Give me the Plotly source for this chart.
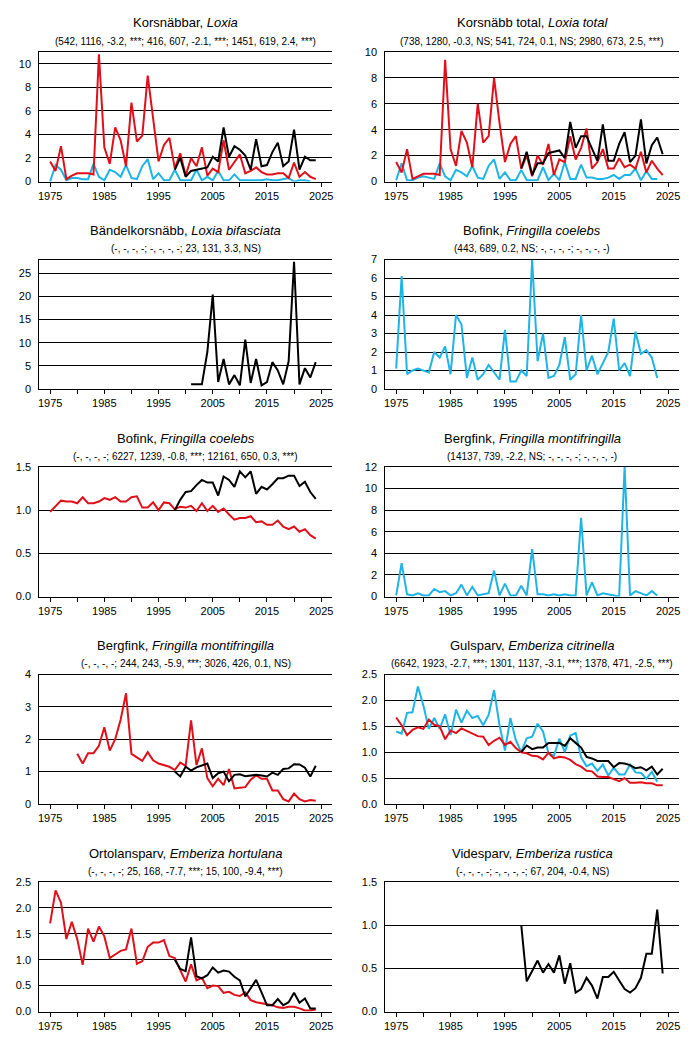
import plotly.graph_objects as go

W, H = 692, 1038
RED = "#E0101A"
CYAN = "#1EB4E6"
BLACK = "#000000"
FONT = "Arial, Liberation Sans, sans-serif"

# ---------------- data ----------------
korsnabbar_red = [1.7, 0.9, 3.0, 0.2, 0.5, 0.7, 0.7, 0.7, 0.6, 10.8, 2.9, 1.5, 4.6, 3.5, 1.3, 6.7, 3.4, 3.9, 9.0, 5.5,
                  1.7, 3.1, 3.7, 1.1, 2.4, 0.5, 2.0, 1.3, 2.9, 0.5, 1.1, 0.8, 3.5, 1.0, 1.6, 2.3, 0.7, 0.9, 1.2, 0.8,
                  0.6, 0.6, 0.7, 0.7, 0.3, 1.6, 0.4, 0.8, 0.4, 0.2]
korsnabbar_black = [1.0, 2.0, 0.4, 0.9, 1.0, 1.1, 1.2, 2.1, 1.7, 4.6, 2.1, 3.0, 2.7, 2.2, 1.0, 3.6, 1.3, 1.4, 2.5, 3.3,
                    1.3, 1.7, 4.4, 1.0, 2.1, 1.8, 1.8]
korsnabbar_cyan = [0.0, 1.4, 1.0, 0.1, 0.3, 0.3, 0.2, 0.2, 1.5, 0.4, 0.1, 1.0, 0.8, 0.4, 1.4, 0.3, 0.2, 1.3, 1.9, 0.2,
                   0.7, 0.1, 0.1, 1.0, 0.1, 0.1, 0.1, 1.0, 0.1, 0.4, 0.1, 0.9, 0.1, 0.1, 0.6, 0.1, 0.1, 0.1, 0.1, 0.1,
                   0.2, 0.1, 0.1, 0.2, 0.3, 0.0, 0.1, 0.1, 0.0]

total_red = [1.5, 0.7, 2.5, 0.2, 0.4, 0.6, 0.6, 0.6, 0.5, 9.4, 2.5, 1.2, 3.9, 3.0, 1.1, 6.0, 3.0, 3.5, 8.0, 4.5,
             1.5, 2.9, 3.5, 1.0, 2.0, 0.4, 2.0, 1.3, 2.9, 0.5, 1.7, 1.5, 3.5, 1.7, 2.6, 4.1, 1.0, 1.5, 2.5, 1.0,
             1.0, 1.8, 1.1, 1.3, 1.0, 2.3, 0.7, 1.6, 1.0, 0.5]
total_black = [1.0, 2.3, 0.5, 1.4, 1.4, 2.2, 2.3, 2.4, 1.8, 4.6, 2.6, 3.5, 3.5, 2.5, 1.6, 4.4, 1.6, 1.6, 2.9, 3.8,
               1.5, 2.0, 4.8, 1.4, 2.8, 3.4, 2.1]
total_cyan = [0.1, 1.4, 0.1, 0.1, 0.3, 0.4, 0.3, 0.2, 1.4, 0.4, 0.1, 0.9, 0.7, 0.4, 1.2, 0.3, 0.2, 1.2, 1.7, 0.2,
              0.7, 0.1, 0.1, 0.9, 0.1, 0.1, 0.1, 1.1, 0.1, 0.6, 0.1, 1.5, 0.2, 0.2, 1.3, 0.3, 0.3, 0.2, 0.2, 0.3,
              0.5, 0.2, 0.5, 0.5, 1.0, 0.1, 0.8, 0.2, 0.2]

bandel_black = [1.0, 1.0, 1.0, 8.0, 20.4, 1.5, 6.5, 1.0, 3.0, 0.8, 10.7, 1.3, 6.5, 0.8, 1.5, 5.8, 4.0, 1.0, 6.0, 27.5,
                1.0, 4.5, 2.5, 5.8]

bofink_cyan = [1.1, 6.1, 0.8, 1.0, 1.1, 1.0, 0.9, 2.0, 1.7, 2.3, 0.8, 4.0, 3.5, 0.6, 1.7, 0.5, 0.8, 1.3, 0.9, 0.5,
               3.2, 0.4, 0.4, 1.0, 0.7, 7.0, 1.5, 3.0, 0.6, 0.7, 1.3, 2.8, 0.5, 0.8, 4.0, 1.0, 1.8, 0.8, 1.4, 2.0,
               3.8, 1.0, 1.4, 0.7, 3.1, 1.9, 2.1, 1.7, 0.6]

bofink_red = [0.98, 1.05, 1.11, 1.10, 1.10, 1.08, 1.15, 1.08, 1.08, 1.10, 1.14, 1.12, 1.15, 1.10, 1.10, 1.15, 1.16,
              1.03, 1.03, 1.09, 1.00, 1.09, 1.08, 1.01, 1.04, 1.03, 1.05, 0.99, 1.08, 0.99, 1.05, 0.98, 1.02, 0.95,
              0.89, 0.91, 0.91, 0.93, 0.86, 0.87, 0.83, 0.83, 0.88, 0.81, 0.78, 0.81, 0.75, 0.78, 0.71, 0.67]
bofink_black = [1.00, 1.12, 1.21, 1.22, 1.29, 1.35, 1.32, 1.32, 1.17, 1.39, 1.35, 1.27, 1.45, 1.38, 1.45, 1.19, 1.27,
                1.24, 1.30, 1.37, 1.37, 1.40, 1.40, 1.28, 1.33, 1.21, 1.13]

bergfink_cyan = [0.1, 3.1, 0.2, 0.1, 0.3, 0.1, 0.1, 0.7, 0.4, 0.5, 0.1, 0.3, 1.1, 0.1, 0.9, 0.1, 0.2, 0.3, 2.4, 0.1,
                 1.2, 0.1, 0.1, 1.0, 0.1, 4.4, 0.2, 0.2, 0.1, 0.2, 0.1, 0.2, 0.1, 0.1, 7.3, 0.1, 1.3, 0.1, 0.3, 0.2,
                 0.1, 0.0, 12.0, 0.1, 0.5, 0.3, 0.1, 0.5, 0.1]

bergfink_red = [1.55, 1.25, 1.57, 1.57, 1.80, 2.37, 1.65, 2.00, 2.60, 3.42, 1.55, 1.43, 1.33, 1.60, 1.35, 1.25, 1.20,
                1.15, 1.05, 1.28, 1.18, 2.58, 1.20, 1.72, 0.80, 0.55, 0.78, 0.58, 1.08, 0.48, 0.50, 0.52, 0.75, 0.88,
                0.78, 0.78, 0.42, 0.42, 0.15, 0.08, 0.32, 0.15, 0.08, 0.12, 0.10]
bergfink_black = [1.00, 0.85, 1.15, 1.03, 1.13, 1.20, 1.25, 0.80, 0.95, 1.00, 0.70, 0.90, 0.92, 0.86, 0.87, 0.90, 0.88,
                  0.85, 0.97, 0.90, 1.08, 1.10, 1.23, 1.22, 1.12, 0.85, 1.18]

gulsparv_cyan = [1.40, 1.36, 1.76, 1.77, 2.27, 1.90, 1.45, 1.66, 1.45, 1.73, 1.33, 1.82, 1.57, 1.80, 1.66, 1.70, 1.52,
                 1.72, 2.20, 1.52, 1.03, 1.66, 1.23, 1.00, 1.27, 1.30, 1.55, 1.40, 0.98, 0.93, 1.26, 1.00, 1.32, 1.37,
                 0.90, 0.73, 0.78, 0.64, 0.76, 0.55, 0.70, 0.57, 0.57, 0.76, 0.61, 0.60, 0.49, 0.62, 0.43]
gulsparv_red = [1.67, 1.52, 1.33, 1.43, 1.48, 1.45, 1.63, 1.53, 1.50, 1.25, 1.42, 1.37, 1.46, 1.41, 1.37, 1.31, 1.30,
                1.14, 1.22, 1.28, 1.14, 1.20, 1.08, 1.00, 0.98, 0.93, 0.92, 0.86, 0.99, 0.88, 0.91, 0.90, 0.85, 0.77,
                0.72, 0.64, 0.63, 0.53, 0.52, 0.52, 0.48, 0.44, 0.50, 0.41, 0.41, 0.42, 0.40, 0.40, 0.36, 0.36]
gulsparv_black = [1.00, 1.13, 1.06, 1.09, 1.09, 1.18, 1.18, 1.18, 1.12, 1.27, 1.18, 1.09, 0.91, 0.88, 0.83, 0.83, 0.83,
                  0.71, 0.79, 0.78, 0.75, 0.69, 0.71, 0.65, 0.72, 0.57, 0.68]

ortolan_red = [1.70, 2.34, 2.10, 1.40, 1.73, 1.40, 0.90, 1.60, 1.35, 1.64, 1.45, 1.03, 1.10, 1.17, 1.20, 1.60, 0.92,
               0.97, 1.25, 1.33, 1.33, 1.38, 1.07, 1.03, 0.80, 0.58, 0.91, 0.60, 0.65, 0.45, 0.50, 0.49, 0.36, 0.38,
               0.32, 0.30, 0.37, 0.22, 0.18, 0.16, 0.15, 0.12, 0.08, 0.07, 0.09, 0.09, 0.06, 0.02, 0.02, 0.04]
ortolan_black = [1.00, 0.82, 0.78, 1.43, 0.68, 0.64, 0.70, 0.85, 0.75, 0.79, 0.77, 0.67, 0.60, 0.29, 0.45, 0.61, 0.37,
                 0.12, 0.12, 0.24, 0.12, 0.18, 0.36, 0.17, 0.25, 0.06, 0.06]

videsparv_black = [1.00, 0.35, 0.47, 0.59, 0.45, 0.55, 0.45, 0.65, 0.32, 0.56, 0.22, 0.26, 0.39, 0.30, 0.15, 0.40, 0.40,
                   0.46, 0.36, 0.26, 0.22, 0.27, 0.39, 0.67, 0.67, 1.18, 0.44]

titles = ["Korsnäbbar, <i>Loxia</i>", "Korsnäbb total, <i>Loxia total</i>",
          "Bändelkorsnäbb, <i>Loxia bifasciata</i>", "Bofink, <i>Fringilla coelebs</i>",
          "Bofink, <i>Fringilla coelebs</i>", "Bergfink, <i>Fringilla montifringilla</i>",
          "Bergfink, <i>Fringilla montifringilla</i>", "Gulsparv, <i>Emberiza citrinella</i>",
          "Ortolansparv, <i>Emberiza hortulana</i>", "Videsparv, <i>Emberiza rustica</i>"]
subtitles = ["(542, 1116, -3.2, ***; 416, 607, -2.1, ***; 1451, 619, 2.4, ***)",
             "(738, 1280, -0.3, NS; 541, 724, 0.1, NS; 2980, 673, 2.5, ***)",
             "(-, -, -, -; -, -, -, -; 23, 131, 3.3, NS)",
             "(443, 689, 0.2, NS; -, -, -, -; -, -, -, -)",
             "(-, -, -, -; 6227, 1239, -0.8, ***; 12161, 650, 0.3, ***)",
             "(14137, 739, -2.2, NS; -, -, -, -; -, -, -, -)",
             "(-, -, -, -; 244, 243, -5.9, ***; 3026, 426, 0.1, NS)",
             "(6642, 1923, -2.7, ***; 1301, 1137, -3.1, ***; 1378, 471, -2.5, ***)",
             "(-, -, -, -; 25, 168, -7.7, ***; 15, 100, -9.4, ***)",
             "(-, -, -, -; -, -, -, -; 67, 204, -0.4, NS)"]
y_max = [11, 10, 28, 7, 1.5, 12, 4, 2.5, 2.5, 1.5]
y_step = [2, 2, 5, 1, 0.5, 2, 1, 0.5, 0.5, 0.5]
y_fmt = ["d", "d", "d", "d", ".1f", "d", "d", ".1f", ".1f", ".1f"]

x_ticks = [1975, 1980, 1985, 1990, 1995, 2000, 2005, 2010, 2015, 2020, 2025]
x_ticklabels = ["1975", "", "1985", "", "1995", "", "2005", "", "2015", "", "2025"]

# (series values, first year, colour) per panel, drawn in order
panels = [
    [(korsnabbar_cyan, 1975, CYAN), (korsnabbar_red, 1975, RED), (korsnabbar_black, 1998, BLACK)],
    [(total_cyan, 1975, CYAN), (total_red, 1975, RED), (total_black, 1998, BLACK)],
    [(bandel_black, 2001, BLACK)],
    [(bofink_cyan, 1975, CYAN)],
    [(bofink_red, 1975, RED), (bofink_black, 1998, BLACK)],
    [(bergfink_cyan, 1975, CYAN)],
    [(bergfink_red, 1980, RED), (bergfink_black, 1998, BLACK)],
    [(gulsparv_cyan, 1975, CYAN), (gulsparv_red, 1975, RED), (gulsparv_black, 1998, BLACK)],
    [(ortolan_red, 1975, RED), (ortolan_black, 1998, BLACK)],
    [(videsparv_black, 1998, BLACK)],
]

# ---------------- layout ----------------
fig = go.Figure()
col_x = [(39.3, 332.0), (385.3, 679.0)]
row_top0, row_step, plot_h = 52.0, 207.5, 129.5

annotations = []
for i, series in enumerate(panels):
    r, c = divmod(i, 2)
    n = i + 1
    xa = "x" if n == 1 else f"x{n}"
    ya = "y" if n == 1 else f"y{n}"
    x0, x1 = col_x[c]
    top = row_top0 + r * row_step
    bot = top + plot_h
    for vals, start, color in series:
        years = list(range(start, start + len(vals)))
        fig.add_trace(go.Scatter(x=years, y=vals, mode="lines", xaxis=xa, yaxis=ya,
                                 line=dict(color=color, width=2), showlegend=False,
                                 hoverinfo="skip"))
    fig.layout[("xaxis" if n == 1 else f"xaxis{n}")] = dict(
        domain=[x0 / W, x1 / W], anchor=ya, range=[1973, 2027],
        tickmode="array", tickvals=x_ticks, ticktext=x_ticklabels,
        ticks="outside", ticklen=4, tickwidth=1, tickcolor="black",
        showline=True, linecolor="black", linewidth=1, mirror=True,
        showgrid=False, zeroline=False, automargin=False,
        tickfont=dict(family=FONT, size=11, color="black"))
    fig.layout[("yaxis" if n == 1 else f"yaxis{n}")] = dict(
        domain=[1 - bot / H, 1 - top / H], anchor=xa, range=[0, y_max[i]],
        dtick=y_step[i], tick0=0, tickformat=y_fmt[i],
        showline=True, linecolor="black", linewidth=1,
        showgrid=True, gridcolor="black", gridwidth=1, zeroline=False,
        ticks="", ticklabelstandoff=5, automargin=False,
        tickfont=dict(family=FONT, size=11, color="black"))
    cx = (x0 + x1) / 2 / W
    annotations.append(dict(text=titles[i], x=cx, y=1 - (top - 29) / H, xref="paper", yref="paper",
                            showarrow=False, xanchor="center", yanchor="middle",
                            font=dict(family=FONT, size=13, color="black")))
    annotations.append(dict(text=subtitles[i], x=cx, y=1 - (top - 11) / H, xref="paper", yref="paper",
                            showarrow=False, xanchor="center", yanchor="middle",
                            font=dict(family=FONT, size=10, color="black")))

fig.update_layout(width=W, height=H, margin=dict(l=0, r=0, t=0, b=0, pad=0, autoexpand=False),
                  paper_bgcolor="white", plot_bgcolor="white", hovermode=False,
                  annotations=annotations, font=dict(family=FONT, color="black"))

fig.write_html("out.html", config={"displayModeBar": False, "staticPlot": True},
               post_script="document.body.style.margin='0px';document.body.style.overflow='hidden';")
